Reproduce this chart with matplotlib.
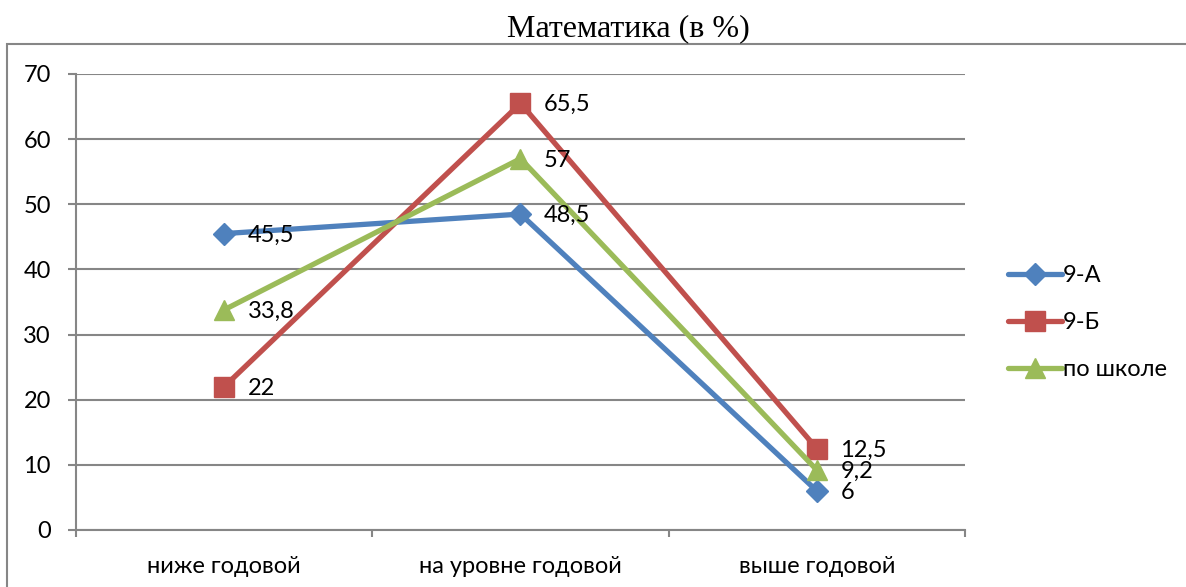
import matplotlib.pyplot as plt
from matplotlib.patches import Rectangle

# data
categories = ["ниже годовой", "на уровне годовой", "выше годовой"]
series_names = ["9-А", "9-Б", "по школе"]
values_9a = [45.5, 48.5, 6]
values_9b = [22, 65.5, 12.5]
values_school = [33.8, 57, 9.2]
labels_9a = ["45,5", "48,5", "6"]
labels_9b = ["22", "65,5", "12,5"]
labels_school = ["33,8", "57", "9,2"]

colors = ["#4F81BD", "#C0504D", "#9BBB59"]
markers = ["D", "s", "^"]
msizes = [11, 14, 15]

plt.rcParams['font.family'] = ['Lato', 'DejaVu Sans']

fig = plt.figure(figsize=(11.86, 5.87), dpi=100)
ax = fig.add_axes([76 / 1186, 1 - 530 / 587, (965 - 76) / 1186, (530 - 74) / 587])

# outer frame (cropped in the original image)
fig.patches.append(Rectangle((7 / 1186, -0.5), 2, (1 - 44 / 587) + 0.5,
                             transform=fig.transFigure, fill=False,
                             edgecolor="#868686", lw=1.5))

x = list(range(len(categories)))
all_vals = [values_9a, values_9b, values_school]
all_labels = [labels_9a, labels_9b, labels_school]
for name, vals, labs, c, m, ms in zip(series_names, all_vals, all_labels, colors, markers, msizes):
    ax.plot(x, vals, color=c, lw=3.8, marker=m, markersize=ms, label=name,
            solid_capstyle="round")
    for xi, v, lab in zip(x, vals, labs):
        ax.annotate(lab, (xi, v), xytext=(17, -1), textcoords="offset points",
                    va="center", ha="left", fontsize=17, color="black")

ax.set_xlim(-0.5, 2.5)
ax.set_ylim(0, 70)
ax.set_yticks(range(0, 71, 10))
ax.set_xticks([-0.5, 0.5, 1.5, 2.5])
ax.set_xticklabels([])
ax.set_xticks(x, minor=True)
ax.set_xticklabels(categories, minor=True)
ax.tick_params(axis="x", which="minor", length=0, pad=19, labelsize=17)
ax.tick_params(axis="x", which="major", length=5, color="#868686", width=1.5)
ax.tick_params(axis="y", length=6, color="#868686", width=1.5, labelsize=17, pad=12)
ax.yaxis.grid(True, color="#868686", lw=1.5)
ax.set_axisbelow(True)
for s in ["top", "right"]:
    ax.spines[s].set_visible(False)
for s in ["left", "bottom"]:
    ax.spines[s].set_color("#868686")
    ax.spines[s].set_linewidth(1.5)

fig.text(628 / 1186, 1 - 29 / 587, "Математика (в %)", ha="center", va="center",
         fontsize=23, family=["Liberation Serif", "DejaVu Serif"])

leg = ax.legend(loc="center left", bbox_to_anchor=(1.024, 0.455), frameon=False,
                fontsize=17, handlelength=2.3, handletextpad=0.05, labelspacing=1.1)

fig.savefig("out.png", dpi=100)
